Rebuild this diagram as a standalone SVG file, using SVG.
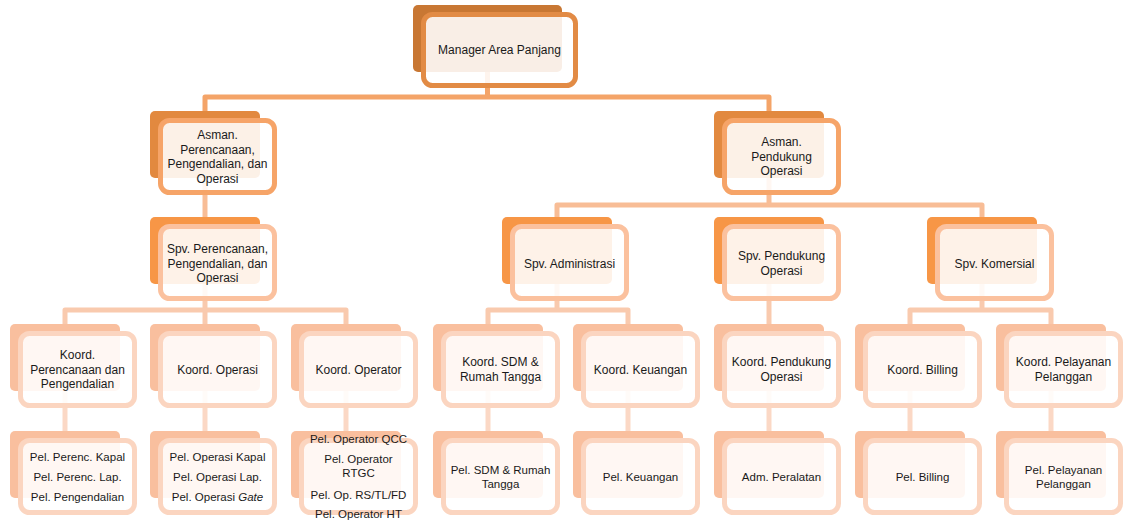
<svg xmlns="http://www.w3.org/2000/svg" width="1125" height="524" viewBox="0 0 1125 524">
<style>
.bg{fill:#ffffff}
.b{rx:5;ry:5}
.f{fill:#ffffff;fill-opacity:0.88;stroke-width:5;rx:9;ry:9}
.b1{fill:#C87733}.f1{stroke:#E28B45}
.b2{fill:#E2893F}.f2{stroke:#F6A468}
.b3{fill:#F79646}.f3{stroke:#FBC19E}
.b4{fill:#F9BF9E}.f4{stroke:#FBD5C0}
.c{fill:none;stroke-width:5;stroke-linejoin:round}
.c1{stroke:#F4A468}.c2{stroke:#F8BD96}.c3{stroke:#F9CAAE}.c4{stroke:#FBD8C5}
text{font-family:"Liberation Sans",Arial,sans-serif;font-size:12px;fill:#1a1a1a;text-anchor:middle;dominant-baseline:central}
.s{font-size:11.5px}
</style>
<rect class="bg" x="0" y="0" width="1125" height="524"/>
<g id="connectors">
<path class="c c1" d="M487.5 72V97"/>
<path class="c c1" d="M205 111V97H769V111"/>
<path class="c c2" d="M205 178V217"/>
<path class="c c2" d="M769 178V205"/>
<path class="c c2" d="M557 217V205H982V217"/>
<path class="c c3" d="M205 284V310"/>
<path class="c c3" d="M65 324V310H346V324"/>
<path class="c c3" d="M205 310V324"/>
<path class="c c3" d="M557 284V310"/>
<path class="c c3" d="M488 324V310H628V324"/>
<path class="c c3" d="M769 284V324"/>
<path class="c c3" d="M982 284V310"/>
<path class="c c3" d="M910 324V310H1051V324"/>
<path class="c c4" d="M65 391V431"/>
<path class="c c4" d="M205 391V431"/>
<path class="c c4" d="M346 391V431"/>
<path class="c c4" d="M488 391V431"/>
<path class="c c4" d="M628 391V431"/>
<path class="c c4" d="M769 391V431"/>
<path class="c c4" d="M910 391V431"/>
<path class="c c4" d="M1051 391V431"/>
</g>
<g id="n-manager">
<rect class="b b1" x="413" y="5" width="149" height="67"/>
<rect class="f f1" x="423.5" y="14.5" width="152" height="71"/>
<text x="499.5" y="50">Manager Area Panjang</text>
</g>
<g id="n-asman-ppo">
<rect class="b b2" x="150" y="111" width="110" height="67"/>
<rect class="f f2" x="160.5" y="120.5" width="114" height="72"/>
<text x="217.5" y="135.25">Asman.</text>
<text x="217.5" y="149.75">Perencanaan,</text>
<text x="217.5" y="164.25">Pengendalian, dan</text>
<text x="217.5" y="178.75">Operasi</text>
</g>
<g id="n-asman-po">
<rect class="b b2" x="714" y="111" width="110" height="67"/>
<rect class="f f2" x="724.5" y="120.5" width="114" height="72"/>
<text x="781.5" y="142">Asman.</text>
<text x="781.5" y="156.5">Pendukung</text>
<text x="781.5" y="171">Operasi</text>
</g>
<g id="n-spv-ppo">
<rect class="b b3" x="150" y="217" width="110" height="67"/>
<rect class="f f3" x="160.5" y="226.5" width="114" height="72"/>
<text x="217.5" y="249">Spv. Perencanaan,</text>
<text x="217.5" y="263.5">Pengendalian, dan</text>
<text x="217.5" y="278">Operasi</text>
</g>
<g id="n-spv-adm">
<rect class="b b3" x="502" y="217" width="110" height="67"/>
<rect class="f f3" x="512.5" y="226.5" width="114" height="72"/>
<text x="569.5" y="263.5">Spv. Administrasi</text>
</g>
<g id="n-spv-po">
<rect class="b b3" x="714" y="217" width="110" height="67"/>
<rect class="f f3" x="724.5" y="226.5" width="114" height="72"/>
<text x="781.5" y="256.25">Spv. Pendukung</text>
<text x="781.5" y="270.75">Operasi</text>
</g>
<g id="n-spv-kom">
<rect class="b b3" x="927" y="217" width="110" height="67"/>
<rect class="f f3" x="937.5" y="226.5" width="114" height="72"/>
<text x="994.5" y="263.5">Spv. Komersial</text>
</g>
<g id="n-koord-pp">
<rect class="b b4" x="10" y="324" width="110" height="67"/>
<rect class="f f4" x="20.5" y="333.5" width="114" height="72"/>
<text x="77.5" y="355">Koord.</text>
<text x="77.5" y="369.5">Perencanaan dan</text>
<text x="77.5" y="384">Pengendalian</text>
</g>
<g id="n-koord-op">
<rect class="b b4" x="150" y="324" width="110" height="67"/>
<rect class="f f4" x="160.5" y="333.5" width="114" height="72"/>
<text x="217.5" y="369.5">Koord. Operasi</text>
</g>
<g id="n-koord-opr">
<rect class="b b4" x="291" y="324" width="110" height="67"/>
<rect class="f f4" x="301.5" y="333.5" width="114" height="72"/>
<text x="358.5" y="369.5">Koord. Operator</text>
</g>
<g id="n-koord-sdm">
<rect class="b b4" x="433" y="324" width="110" height="67"/>
<rect class="f f4" x="443.5" y="333.5" width="114" height="72"/>
<text x="500.5" y="362.25">Koord. SDM &amp;</text>
<text x="500.5" y="376.75">Rumah Tangga</text>
</g>
<g id="n-koord-keu">
<rect class="b b4" x="573" y="324" width="110" height="67"/>
<rect class="f f4" x="583.5" y="333.5" width="114" height="72"/>
<text x="640.5" y="369.5">Koord. Keuangan</text>
</g>
<g id="n-koord-po">
<rect class="b b4" x="714" y="324" width="110" height="67"/>
<rect class="f f4" x="724.5" y="333.5" width="114" height="72"/>
<text x="781.5" y="362.25">Koord. Pendukung</text>
<text x="781.5" y="376.75">Operasi</text>
</g>
<g id="n-koord-bil">
<rect class="b b4" x="855" y="324" width="110" height="67"/>
<rect class="f f4" x="865.5" y="333.5" width="114" height="72"/>
<text x="922.5" y="369.5">Koord. Billing</text>
</g>
<g id="n-koord-pel">
<rect class="b b4" x="996" y="324" width="110" height="67"/>
<rect class="f f4" x="1006.5" y="333.5" width="114" height="72"/>
<text x="1063.5" y="362.25">Koord. Pelayanan</text>
<text x="1063.5" y="376.75">Pelanggan</text>
</g>
<g id="n-pel-pp">
<rect class="b b4" x="10" y="431" width="110" height="67"/>
<rect class="f f4" x="20.5" y="440.5" width="114" height="72"/>
<text class="s" x="77.5" y="457">Pel. Perenc. Kapal</text>
<text class="s" x="77.5" y="477">Pel. Perenc. Lap.</text>
<text class="s" x="77.5" y="497">Pel. Pengendalian</text>
</g>
<g id="n-pel-op">
<rect class="b b4" x="150" y="431" width="110" height="67"/>
<rect class="f f4" x="160.5" y="440.5" width="114" height="72"/>
<text class="s" x="217.5" y="457">Pel. Operasi Kapal</text>
<text class="s" x="217.5" y="477">Pel. Operasi Lap.</text>
<text class="s" x="217.5" y="497">Pel. Operasi <tspan font-style="italic">Gate</tspan></text>
</g>
<g id="n-pel-opr">
<rect class="b b4" x="291" y="431" width="110" height="67"/>
<rect class="f f4" x="301.5" y="440.5" width="114" height="72"/>
<text class="s" x="358.5" y="439">Pel. Operator QCC</text>
<text class="s" x="358.5" y="459">Pel. Operator</text>
<text class="s" x="358.5" y="473">RTGC</text>
<text class="s" x="358.5" y="495">Pel. Op. RS/TL/FD</text>
<text class="s" x="358.5" y="514">Pel. Operator HT</text>
</g>
<g id="n-pel-sdm">
<rect class="b b4" x="433" y="431" width="110" height="67"/>
<rect class="f f4" x="443.5" y="440.5" width="114" height="72"/>
<text class="s" x="500.5" y="469.5">Pel. SDM &amp; Rumah</text>
<text class="s" x="500.5" y="484">Tangga</text>
</g>
<g id="n-pel-keu">
<rect class="b b4" x="573" y="431" width="110" height="67"/>
<rect class="f f4" x="583.5" y="440.5" width="114" height="72"/>
<text class="s" x="640.5" y="476.5">Pel. Keuangan</text>
</g>
<g id="n-adm-per">
<rect class="b b4" x="714" y="431" width="110" height="67"/>
<rect class="f f4" x="724.5" y="440.5" width="114" height="72"/>
<text class="s" x="781.5" y="476.5">Adm. Peralatan</text>
</g>
<g id="n-pel-bil">
<rect class="b b4" x="855" y="431" width="110" height="67"/>
<rect class="f f4" x="865.5" y="440.5" width="114" height="72"/>
<text class="s" x="922.5" y="476.5">Pel. Billing</text>
</g>
<g id="n-pel-pel">
<rect class="b b4" x="996" y="431" width="110" height="67"/>
<rect class="f f4" x="1006.5" y="440.5" width="114" height="72"/>
<text class="s" x="1063.5" y="469.5">Pel. Pelayanan</text>
<text class="s" x="1063.5" y="484">Pelanggan</text>
</g>
</svg>
